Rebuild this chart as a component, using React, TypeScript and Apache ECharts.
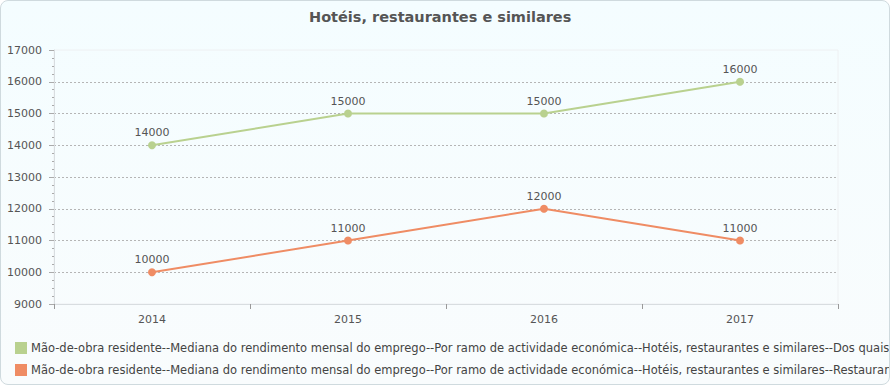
import React, { useEffect, useRef } from "react";
import * as echarts from "echarts";

const categories = ["2014", "2015", "2016", "2017"];
const hoteisValues = [14000, 15000, 15000, 16000];
const restaurantesValues = [10000, 11000, 12000, 11000];
const seriesNames = [
  "Mão-de-obra residente--Mediana do rendimento mensal do emprego--Por ramo de actividade económica--Hotéis, restaurantes e similares--Dos quais: Hotéis",
  "Mão-de-obra residente--Mediana do rendimento mensal do emprego--Por ramo de actividade económica--Hotéis, restaurantes e similares--Restaurantes e similares",
];
const titleText = "Hotéis, restaurantes e similares";
const colors = ["#b9d18f", "#ef8c64"];

export default function App() {
  const ref = useRef<HTMLDivElement>(null);
  useEffect(() => {
    document.body.style.margin = "0";
    const chart = echarts.init(ref.current!, undefined, { renderer: "svg" });
    const font = "DejaVu Sans, Verdana, sans-serif";
    chart.setOption({
      animation: false,
      textStyle: { fontFamily: font },
      title: {
        text: titleText,
        left: 308,
        top: 8,
        padding: 0,
        textStyle: { fontSize: 14.5, fontWeight: "bold", color: "#555", fontFamily: font },
      },
      legend: {
        orient: "vertical",
        left: 14,
        top: 341,
        padding: 0,
        itemWidth: 12,
        itemHeight: 12,
        itemGap: 10,
        icon: "rect",
        textStyle: { fontSize: 11.5, color: "#444", fontFamily: font, padding: [0, 0, 0, -1] },
        data: seriesNames,
      },
      grid: { left: 53, top: 49, width: 784, height: 254, show: true, borderColor: "#eef0f2", borderWidth: 1, containLabel: false },
      xAxis: {
        type: "category",
        data: categories,
        boundaryGap: true,
        axisLine: { lineStyle: { color: "#d8dde0" } },
        axisTick: { show: true, length: 5, lineStyle: { color: "#999" } },
        axisLabel: { color: "#555", fontSize: 11, margin: 10 },
      },
      yAxis: {
        type: "value",
        min: 9000,
        max: 17000,
        interval: 1000,
        axisLine: { show: true, lineStyle: { color: "#d8dde0" } },
        axisTick: { show: true, length: 5, lineStyle: { color: "#aaa" } },
        minorTick: { show: true, splitNumber: 4, length: 2, lineStyle: { color: "#aaa" } },
        axisLabel: { color: "#555", fontSize: 11, margin: 12, formatter: (v: number) => String(v) },
        splitLine: { show: true, showMinLine: false, showMaxLine: false, lineStyle: { color: "#b5b5b5", type: [2, 2], width: 1 } },
      },
      series: [
        {
          name: seriesNames[0],
          type: "line",
          data: hoteisValues,
          color: colors[0],
          symbol: "circle",
          symbolSize: 8,
          lineStyle: { width: 2 },
          label: { show: true, position: "top", distance: 3, color: "#555", fontSize: 11 },
        },
        {
          name: seriesNames[1],
          type: "line",
          data: restaurantesValues,
          color: colors[1],
          symbol: "circle",
          symbolSize: 8,
          lineStyle: { width: 2 },
          label: { show: true, position: "top", distance: 3, color: "#555", fontSize: 11 },
        },
      ],
    });
    return () => chart.dispose();
  }, []);
  return (
    <div
      style={{
        width: 888,
        height: 383,
        border: "1px solid #cfdade",
        borderRadius: 8,
        overflow: "hidden",
        background: "linear-gradient(#f4fdff, #f9fcfd)",
      }}
    >
      <div ref={ref} style={{ width: 888, height: 383 }} />
    </div>
  );
}
